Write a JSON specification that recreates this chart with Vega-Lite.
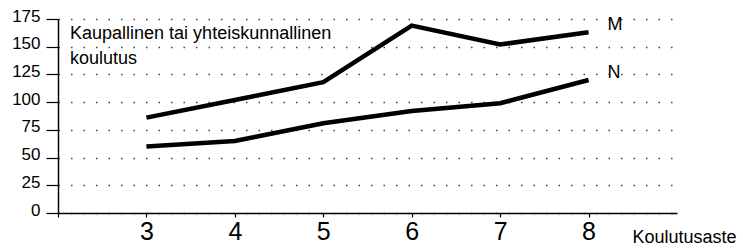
{
  "$schema": "https://vega.github.io/schema/vega-lite/v6.json",
  "width": 619,
  "height": 194,
  "autosize": "none",
  "padding": {"left": 58, "top": 19, "right": 66, "bottom": 36},
  "background": "white",
  "config": {
    "view": {"stroke": null},
    "font": "Liberation Sans",
    "axis": {"labelFont": "Liberation Sans", "titleFont": "Liberation Sans", "labelColor": "black", "titleColor": "black"}
  },
  "data": {
    "values": [
      {"koulutusaste": 3, "arvo": 86, "sukupuoli": "M"},
      {"koulutusaste": 4, "arvo": 102, "sukupuoli": "M"},
      {"koulutusaste": 5, "arvo": 118, "sukupuoli": "M"},
      {"koulutusaste": 6, "arvo": 169, "sukupuoli": "M"},
      {"koulutusaste": 7, "arvo": 152, "sukupuoli": "M"},
      {"koulutusaste": 8, "arvo": 163, "sukupuoli": "M"},
      {"koulutusaste": 3, "arvo": 60, "sukupuoli": "N"},
      {"koulutusaste": 4, "arvo": 65, "sukupuoli": "N"},
      {"koulutusaste": 5, "arvo": 81, "sukupuoli": "N"},
      {"koulutusaste": 6, "arvo": 92, "sukupuoli": "N"},
      {"koulutusaste": 7, "arvo": 99, "sukupuoli": "N"},
      {"koulutusaste": 8, "arvo": 120, "sukupuoli": "N"}
    ]
  },
  "layer": [
    {
      "encoding": {
        "x": {
          "field": "koulutusaste", "type": "quantitative",
          "scale": {"domain": [2, 9], "nice": false, "zero": false},
          "axis": {
            "values": [2, 3, 4, 5, 6, 7, 8],
            "format": "d",
            "labelExpr": "datum.value == 2 ? '' : datum.label",
            "labelFlush": false, "labelOverlap": false,
            "grid": false,
            "domainColor": "black", "domainWidth": 1.5,
            "tickColor": "black", "tickSize": 4, "tickWidth": 1.2,
            "labelFontSize": 25, "labelPadding": 2,
            "title": "Koulutusaste",
            "titleFontSize": 18, "titleFontWeight": "normal",
            "titleAnchor": null, "titleAlign": "left", "titleBaseline": "alphabetic",
            "titleX": 574, "titleY": 29
          }
        },
        "y": {
          "field": "arvo", "type": "quantitative",
          "scale": {"domain": [0, 175], "nice": false},
          "axis": {
            "values": [0, 25, 50, 75, 100, 125, 150, 175],
            "tickCount": 8,
            "labelFlush": false, "labelOverlap": false,
            "title": null,
            "grid": true, "gridColor": "#444", "gridDash": [1.5, 11], "gridWidth": 1.3,
            "domainColor": "black", "domainWidth": 1.5,
            "tickColor": "black", "tickSize": 12, "tickWidth": 1.2,
            "labelFontSize": 17, "labelPadding": 6, "labelOffset": -3
          }
        }
      },
      "layer": [
        {
          "mark": {"type": "line", "color": "black", "strokeWidth": 4.5, "strokeJoin": "miter"},
          "encoding": {
            "detail": {"field": "sukupuoli"}
          }
        },
        {
          "transform": [{"filter": "datum.koulutusaste == 8"}],
          "mark": {"type": "text", "align": "left", "baseline": "middle", "dx": 19, "dy": -7, "fontSize": 18, "color": "black"},
          "encoding": {
            "text": {"field": "sukupuoli"}
          }
        }
      ]
    },
    {
      "data": {"values": [{}]},
      "mark": {"type": "text", "align": "left", "baseline": "alphabetic", "fontSize": 18, "lineHeight": 25, "color": "black",
        "text": ["Kaupallinen tai yhteiskunnallinen", "koulutus"]},
      "encoding": {
        "x": {"datum": 2.136, "type": "quantitative"},
        "y": {"datum": 157.4, "type": "quantitative"}
      }
    }
  ]
}
